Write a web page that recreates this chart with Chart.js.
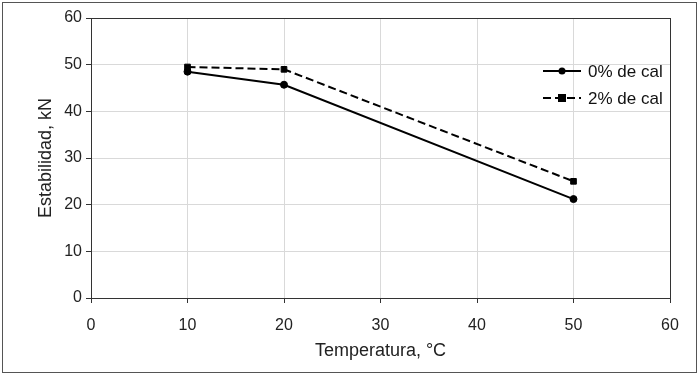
<!DOCTYPE html>
<html>
<head>
<meta charset="utf-8">
<script src="https://cdn.jsdelivr.net/npm/chart.js@4"></script>
<style>
  html, body { margin: 0; padding: 0; background: #fff; }
  #wrap { width: 699px; height: 375px; position: relative; }
</style>
</head>
<body>
<div id="wrap"><canvas id="chart" width="699" height="375"></canvas></div>
<script>
// ===== DATA =====
const temps = [10, 20, 50];
const cal0 = [48.5, 45.7, 21.2];
const cal2 = [49.5, 49.0, 25.0];
const seriesNames = ["0% de cal", "2% de cal"];
const xTitle = "Temperatura, \u00B0C";
const yTitle = "Estabilidad, kN";

const FONT = "'Liberation Sans', Arial, sans-serif";

function toPoints(xs, ys) {
  return xs.map((x, i) => ({ x: x, y: ys[i] }));
}

// ===== PLUGINS =====
// outer frame + plot frame
const framePlugin = {
  id: "frame",
  beforeDraw(chart) {
    const c = chart.ctx;
    c.save();
    c.fillStyle = "#fff";
    c.fillRect(0, 0, chart.width, chart.height);
    c.strokeStyle = "#555";
    c.lineWidth = 1;
    c.strokeRect(2.5, 2.5, chart.width - 5, chart.height - 5);
    c.restore();
  },
  afterDatasetsDraw(chart) {
    const a = chart.chartArea;
    const c = chart.ctx;
    c.save();
    c.strokeStyle = "#333";
    c.lineWidth = 1;
    c.strokeRect(Math.round(a.left) + 0.5, Math.round(a.top) + 0.5,
      Math.round(a.right - a.left), Math.round(a.bottom - a.top));
    c.restore();
  }
};

// legend drawn inside plot area, top right
const legendPlugin = {
  id: "innerLegend",
  afterDraw(chart) {
    const c = chart.ctx;
    const x0 = 543, x1 = 581;
    const rows = [71, 98];
    c.save();
    chart.data.datasets.forEach((ds, i) => {
      const y = rows[i];
      c.strokeStyle = ds.borderColor;
      c.lineWidth = ds.borderWidth;
      c.setLineDash(ds.borderDash || []);
      c.beginPath();
      c.moveTo(x0, y);
      c.lineTo(x1, y);
      c.stroke();
      c.setLineDash([]);
      c.fillStyle = ds.pointBackgroundColor;
      const mx = (x0 + x1) / 2;
      if (ds.pointStyle === "rect") {
        c.fillRect(mx - 4, y - 4, 8, 8);
      } else {
        c.beginPath();
        c.arc(mx, y, 3.5, 0, Math.PI * 2);
        c.fill();
      }
      c.fillStyle = "#111";
      c.font = "17px " + FONT;
      c.textBaseline = "middle";
      c.fillText(ds.label, 588, y + 1);
    });
    c.restore();
  }
};

// ===== CHART =====
const ctx = document.getElementById("chart").getContext("2d");

const chart = new Chart(ctx, {
  type: "scatter",
  data: {
    datasets: [{
      label: seriesNames[0],
      data: toPoints(temps, cal0),
      showLine: true,
      borderColor: "#000",
      borderWidth: 2,
      pointStyle: "circle",
      pointRadius: 3.5,
      pointBackgroundColor: "#000",
      pointBorderColor: "#000",
      pointBorderWidth: 1
    }, {
      label: seriesNames[1],
      data: toPoints(temps, cal2),
      showLine: true,
      borderColor: "#000",
      borderWidth: 2,
      borderDash: [8, 4],
      pointStyle: "rect",
      pointRadius: 4,
      pointBackgroundColor: "#000",
      pointBorderColor: "#000",
      pointBorderWidth: 1
    }]
  },
  options: {
    responsive: false,
    animation: false,
    devicePixelRatio: 1,
    layout: { padding: { left: 35, right: 29, top: 18, bottom: 13 } },
    plugins: {
      legend: { display: false },
      tooltip: { enabled: false }
    },
    scales: {
      x: {
        type: "linear",
        min: 0,
        max: 60,
        ticks: { stepSize: 10, color: "#222", font: { family: FONT, size: 16 }, padding: 13 },
        grid: { color: "#d9d9d9", tickColor: "#333", tickLength: 5 },
        border: { color: "#333" },
        title: { display: true, text: xTitle, color: "#222", font: { family: FONT, size: 18 }, padding: 0 },
        afterFit(scale) { scale.height = 375 - 13 - 298; }
      },
      y: {
        min: 0,
        max: 60,
        ticks: { stepSize: 10, color: "#222", font: { family: FONT, size: 16 }, padding: 4 },
        grid: { color: "#d9d9d9", tickColor: "#333", tickLength: 5 },
        border: { color: "#333" },
        title: { display: true, text: yTitle, color: "#222", font: { family: FONT, size: 18 }, padding: 0 },
        afterFit(scale) { scale.width = 91 - 35; }
      }
    }
  },
  plugins: [framePlugin, legendPlugin]
});
</script>
</body>
</html>
